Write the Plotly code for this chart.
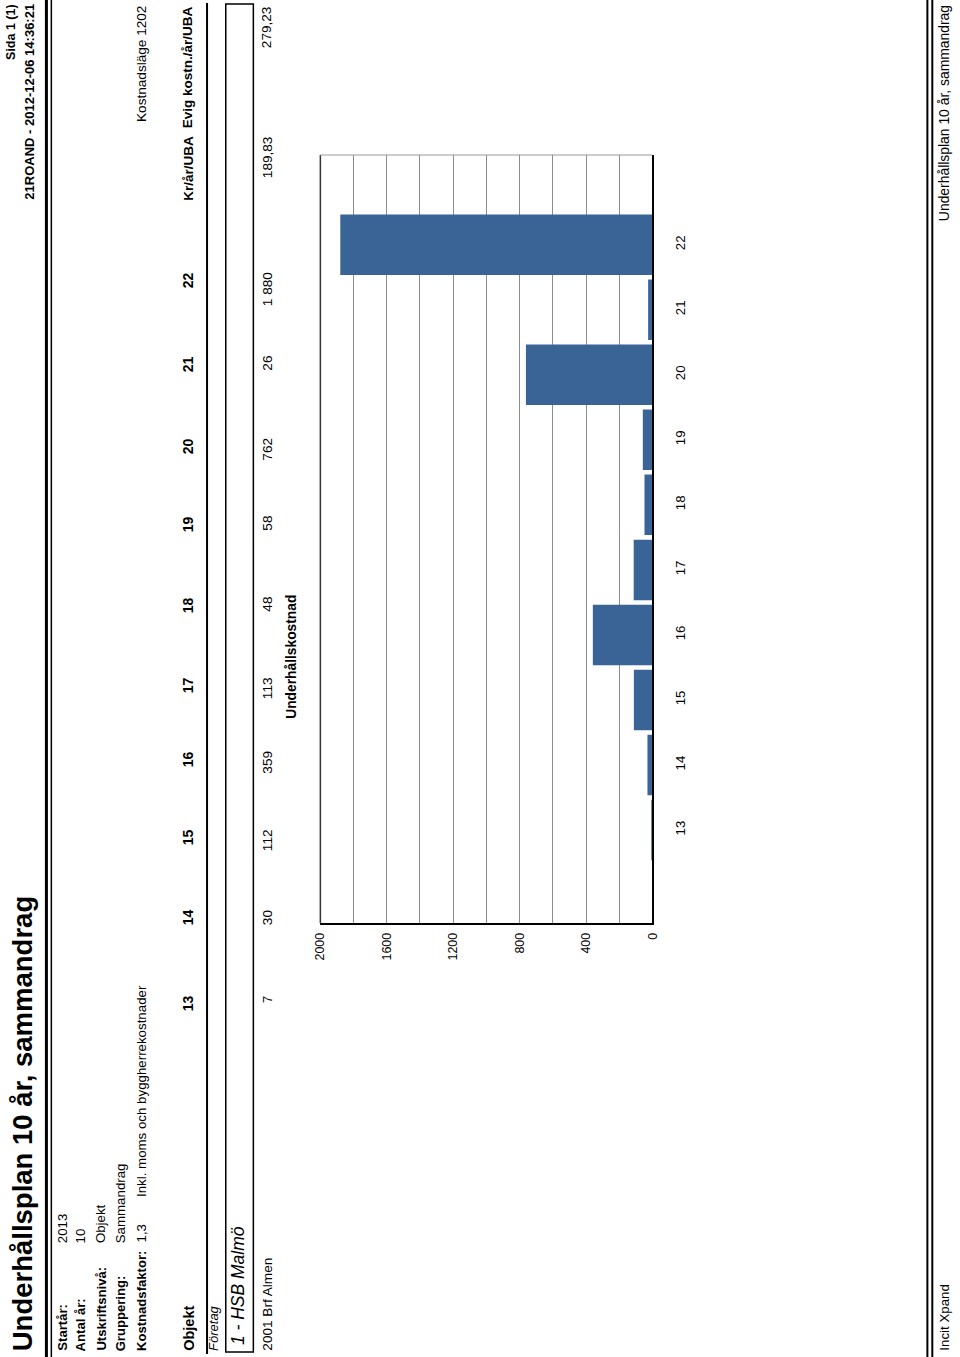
import plotly.graph_objects as go

W, H = 960, 1357
FONT = "Liberation Sans, Arial, sans-serif"

# data
years = [13, 14, 15, 16, 17, 18, 19, 20, 21, 22]
costs = [7, 30, 112, 359, 113, 48, 58, 762, 26, 1880]
value_ticks = [0, 400, 800, 1200, 1600, 2000]
kr_per_uba = "189,83"
evig_kostn = "279,23"
objekt_namn = "2001 Brf Almen"
foretag = "1 - HSB Malmö"

info_labels = ["Startår:", "Antal år:", "Utskriftsnivå:", "Gruppering:", "Kostnadsfaktor:"]
info_values = ["2013", "10", "Objekt", "Sammandrag", "1,3"]


def px(x):
    return x / W


def py(y):
    return 1 - y / H


fig = go.Figure()

fig.add_trace(go.Bar(
    x=costs,
    y=years,
    orientation='h',
    width=0.93,
    marker=dict(color='#3A6496', line=dict(width=0)),
    showlegend=False,
))


def text(s, x, y, size=13.3, bold=False, italic=False, anchor='bottom'):
    if bold:
        s = "<b>" + s + "</b>"
    if italic:
        s = "<i>" + s + "</i>"
    # rotated annotations sit a few px right of the box centre
    fig.add_annotation(
        text=s, x=px(x - 3), y=py(y), xref='paper', yref='paper',
        textangle=-90, xanchor='center', yanchor=anchor, showarrow=False,
        borderpad=0, font=dict(size=size, family=FONT, color='black'),
    )


def vline(x, y0, y1, width=1, color='black'):
    fig.add_shape(type='line', xref='paper', yref='paper',
                  x0=px(x), x1=px(x), y0=py(y0), y1=py(y1),
                  line=dict(color=color, width=width))


# header
text("Underhållsplan 10 år, sammandrag", 19, 1352, size=27.5, bold=True)
text("Sida 1 (1)", 7, 3, size=12.5, bold=True, anchor='top')
text("21ROAND - 2012-12-06 14:36:21", 26, 3, size=13, bold=True, anchor='top')
vline(40, 0, H, width=3)
vline(45, 0, H, width=1.5)

info_x = [59, 78, 98, 118, 139]
for lab, val, x in zip(info_labels, info_values, info_x):
    text(lab, x, 1352, size=13.1, bold=True)
    text(val, x, 1244, size=13.3)
text("Inkl. moms och byggherrekostnader", 139, 1198, size=13.3)
text("Kostnadsläge 1202", 140, 5, size=13.6, anchor='top')

# table
col_end = [994, 908, 828, 750, 676, 596, 515, 437, 355, 271]
text("Objekt", 187, 1352, size=14.5, bold=True)
for yr, c, ye in zip(years, costs, col_end):
    text(str(yr), 187, ye, size=14, bold=True, anchor='top')
    text(f"{c:,}".replace(",", " "), 267, ye, size=13.6, anchor='top')
text("Kr/år/UBA", 187, 135, size=13.5, bold=True, anchor='top')
text("Evig kostn./år/UBA", 187, 5, size=13.5, bold=True, anchor='top')
text(kr_per_uba, 267, 135, size=13.6, anchor='top')
text(evig_kostn, 267, 5, size=13.6, anchor='top')

vline(203, 3, 1354, width=2)
text("Företag", 212, 1352, size=13, italic=True)
fig.add_shape(type='rect', xref='paper', yref='paper',
              x0=px(222), x1=px(250), y0=py(1352), y1=py(4),
              line=dict(color='black', width=1.5))
text(foretag, 237, 1346, size=17.5, italic=True)
text(objekt_namn, 267, 1352, size=13.6)

# chart
text("Underhållskostnad", 291, 720, size=13.8, bold=True)
vline(318, 155, 923, width=1.5, color='#333')
fig.add_shape(type='line', xref='paper', yref='paper',
              x0=px(318), x1=px(655), y0=py(155), y1=py(155),
              line=dict(color='#999', width=1))

# footer
vline(934, 0, H, width=2)
vline(939, 0, H, width=2)
text("Incit Xpand", 954, 1352, size=13.3)
text("Underhållsplan 10 år, sammandrag", 954, 4, size=13.9, anchor='top')

fig.update_layout(
    width=W, height=H,
    margin=dict(l=0, r=0, t=0, b=0),
    paper_bgcolor='white', plot_bgcolor='white',
    font=dict(family=FONT, color='black'),
    bargap=0.07,
    xaxis=dict(
        domain=[px(318), px(655)],
        range=[2000, 0],
        tickvals=value_ticks,
        tickangle=-90,
        tickfont=dict(size=12.5),
        showgrid=True, gridcolor='#8c8c8c', gridwidth=1,
        minor=dict(dtick=200, showgrid=True, gridcolor='#8c8c8c', gridwidth=1),
        showline=True, linecolor='black', linewidth=1.5,
        zeroline=False,
        ticks='', ticklabelstandoff=3,
        fixedrange=True,
    ),
    yaxis=dict(
        domain=[py(923), py(155)],
        range=[11.57, 23.38],
        tickvals=years,
        side='right',
        tickangle=-90,
        tickfont=dict(size=13.3),
        showgrid=False, zeroline=False,
        showline=True, linecolor='black', linewidth=1.5,
        ticks='', ticklabelstandoff=15,
        fixedrange=True,
    ),
)

fig.write_html("out.html", config={'displayModeBar': False},
               post_script="document.body.style.margin='0';")
